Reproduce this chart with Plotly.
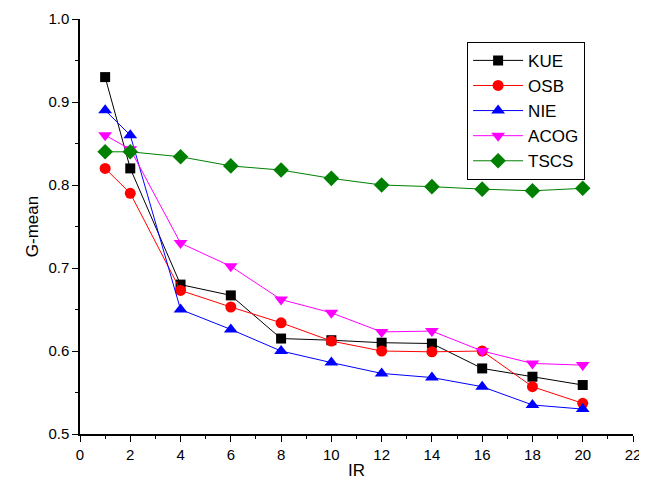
import plotly.graph_objects as go

ir = [1, 2, 4, 6, 8, 10, 12, 14, 16, 18, 20]
kue = [0.930, 0.820, 0.680, 0.667, 0.615, 0.613, 0.610, 0.609, 0.579, 0.569, 0.559]
osb = [0.820, 0.790, 0.673, 0.653, 0.634, 0.612, 0.600, 0.599, 0.600, 0.557, 0.537]
nie = [0.890, 0.860, 0.650, 0.626, 0.600, 0.586, 0.573, 0.568, 0.557, 0.535, 0.530]
acog = [0.860, 0.843, 0.730, 0.702, 0.662, 0.646, 0.623, 0.624, 0.600, 0.585, 0.583]
tscs = [0.840, 0.840, 0.834, 0.823, 0.818, 0.808, 0.800, 0.798, 0.795, 0.793, 0.796]

series = [
    ("KUE", kue, "black", "square", 10),
    ("OSB", osb, "red", "circle", 11),
    ("NIE", nie, "blue", "triangle-up", 12),
    ("ACOG", acog, "magenta", "triangle-down", 12),
    ("TSCS", tscs, "green", "diamond", 12),
]

fig = go.Figure()
for name, vals, col, sym, sz in series:
    fig.add_trace(go.Scatter(
        x=ir, y=vals, name=name, mode="lines+markers",
        line=dict(color=col, width=1),
        marker=dict(color=col, symbol=sym, size=sz, line=dict(width=0)),
    ))

fig.update_layout(
    width=639, height=487,
    margin=dict(l=72, r=14, t=11, b=61),
    plot_bgcolor="white", paper_bgcolor="white",
    font=dict(family="Liberation Sans, Arial", color="black", size=15),
    showlegend=True,
    legend=dict(
        x=0.70, y=0.945, xanchor="left", yanchor="top",
        bordercolor="black", borderwidth=1, bgcolor="white",
        font=dict(size=17), tracegroupgap=0, itemwidth=50,
    ),
    xaxis=dict(
        range=[0, 22], dtick=2, tick0=0, showgrid=False, zeroline=False,
        showline=True, linecolor="black", linewidth=1.5, automargin=False,
        ticks="outside", ticklen=6, tickwidth=1, tickcolor="black",
        minor=dict(dtick=1, ticks="outside", ticklen=3, tickcolor="black"),
        title=dict(text="IR", font=dict(size=17), standoff=2),
        tickfont=dict(size=15),
    ),
    yaxis=dict(
        range=[0.5, 1.0], dtick=0.1, tick0=0.5, showgrid=False, zeroline=False,
        showline=True, linecolor="black", linewidth=1.5, automargin=False,
        ticks="outside", ticklen=6, tickwidth=1, tickcolor="black",
        minor=dict(dtick=0.05, ticks="outside", ticklen=3, tickcolor="black"),
        tickformat=".1f",
        title=dict(text="G-mean", font=dict(size=17), standoff=5),
        tickfont=dict(size=15),
    ),
)

fig.write_html("out.html")
